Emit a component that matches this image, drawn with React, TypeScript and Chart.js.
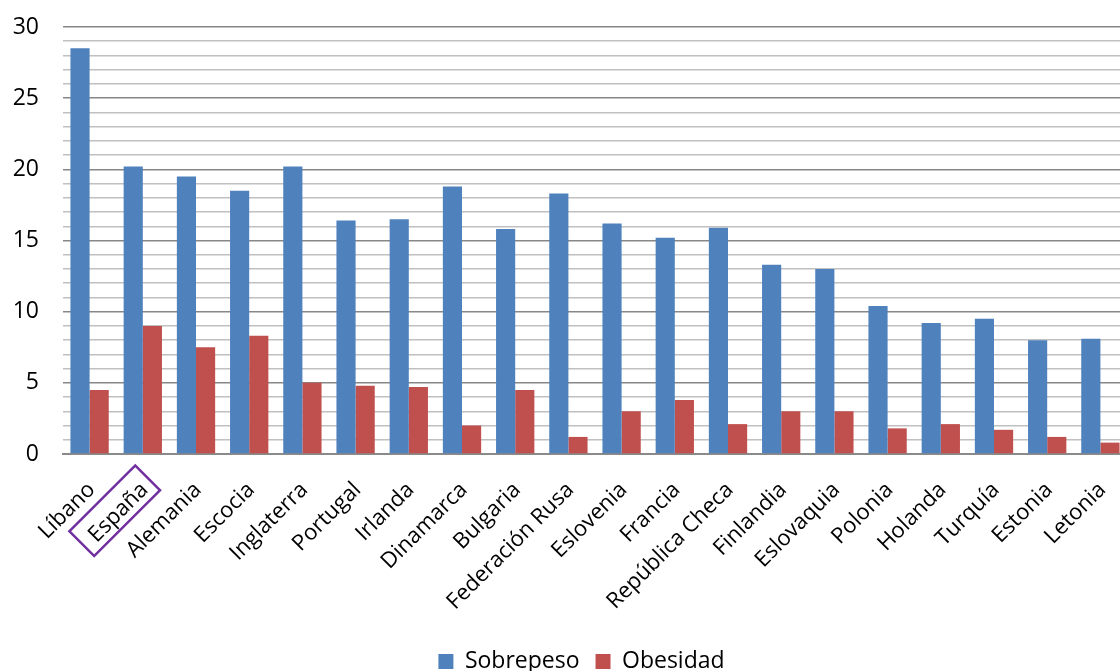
import React, { useEffect, useRef } from "react";
import { Chart, registerables } from "chart.js";

Chart.register(...registerables);

const categories = [
  "Líbano", "España", "Alemania", "Escocia", "Inglaterra", "Portugal", "Irlanda",
  "Dinamarca", "Bulgaria", "Federación Rusa", "Eslovenia", "Francia", "República Checa",
  "Finlandia", "Eslovaquia", "Polonia", "Holanda", "Turquía", "Estonia", "Letonia",
];
const sobrepeso = [28.5, 20.2, 19.5, 18.5, 20.2, 16.4, 16.5, 18.8, 15.8, 18.3, 16.2, 15.2, 15.9, 13.3, 13.0, 10.4, 9.2, 9.5, 8.0, 8.1];
const obesidad = [4.5, 9.0, 7.5, 8.3, 5.0, 4.8, 4.7, 2.0, 4.5, 1.2, 3.0, 3.8, 2.1, 3.0, 3.0, 1.8, 2.1, 1.7, 1.2, 0.8];
const yMin = 0;
const yMax = 30;
const yLabelStep = 5;
const highlighted = "España";

export default function App() {
  const ref = useRef<HTMLCanvasElement>(null);
  useEffect(() => {
    document.body.style.margin = "0";
    document.body.style.overflow = "hidden";
    const legendShift = {
      id: "legendShift",
      beforeDraw(chart: any) {
        const lg = chart.legend;
        if (lg && !lg._shifted) {
          lg.left += 12;
          lg.right += 12;
          lg._shifted = true;
        }
      },
    };
    const highlightPlugin = {
      id: "highlightLabel",
      afterDraw(chart: any) {
        const scale = chart.scales.x;
        const idx = categories.indexOf(highlighted);
        const items = scale.getLabelItems(chart.chartArea);
        const it = items[idx];
        if (!it) return;
        const [tx, ty] = it.options.translation;
        const ctx = chart.ctx;
        ctx.save();
        ctx.font = it.font.string;
        const w = ctx.measureText(String(it.label)).width;
        ctx.translate(tx, ty);
        ctx.rotate(it.options.rotation);
        const cy = it.textOffset;
        const h = 35;
        ctx.strokeStyle = "#7030A0";
        ctx.lineWidth = 2.5;
        ctx.strokeRect(-w - 11, cy - 4 - h / 2, w + 19, h);
        ctx.restore();
      },
    };
    const chart = new Chart(ref.current as HTMLCanvasElement, {
      type: "bar",
      data: {
        labels: categories,
        datasets: [
          { label: "Sobrepeso", data: sobrepeso, backgroundColor: "#4F81BD", categoryPercentage: 0.72, barPercentage: 1.0 },
          { label: "Obesidad", data: obesidad, backgroundColor: "#C0504D", categoryPercentage: 0.72, barPercentage: 1.0 },
        ],
      },
      options: {
        responsive: false,
        animation: false,
        layout: { padding: { left: 12, right: 33, top: 27, bottom: 0 } },
        plugins: {
          legend: {
            position: "bottom",
            labels: {
              boxWidth: 15,
              boxHeight: 15,
              padding: 16,
              color: "#000",
              font: { family: "'Open Sans'", size: 23 },
            },
          },
          tooltip: { enabled: false },
        },
        scales: {
          x: {
            grid: { display: false, drawTicks: false },
            border: { display: true, color: "#8a8a8a", width: 2 },
            ticks: {
              color: "#000",
              font: { family: "'Open Sans'", size: 22 },
              maxRotation: 45,
              minRotation: 45,
              autoSkip: false,
              padding: 23,
              labelOffset: 2,
            },
            afterFit(scale: any) {
              scale.height = 180;
            },
          },
          y: {
            min: yMin,
            max: yMax,
            grid: {
              drawTicks: false,
              lineWidth: 1.5,
              color: (c: any) => (c.tick && c.tick.value % yLabelStep === 0 ? "#878787" : "#c0c0c0"),
            },
            border: { display: false },
            ticks: {
              stepSize: 1,
              autoSkip: false,
              padding: 24,
              color: "#000",
              font: { family: "'Open Sans'", size: 23 },
              callback: (v: any) => (Number(v) % yLabelStep === 0 ? String(v) : ""),
            },
            afterFit(scale: any) {
              scale.width = 51;
              scale.paddingTop = 0;
              scale.paddingBottom = 0;
            },
          },
        },
      },
      plugins: [legendShift, highlightPlugin],
    });
    return () => chart.destroy();
  }, []);
  return (
    <div style={{ position: "relative", width: 1120, height: 671, overflow: "hidden" }}>
      <canvas ref={ref} width={1160} height={683} style={{ display: "block" }} />
    </div>
  );
}
